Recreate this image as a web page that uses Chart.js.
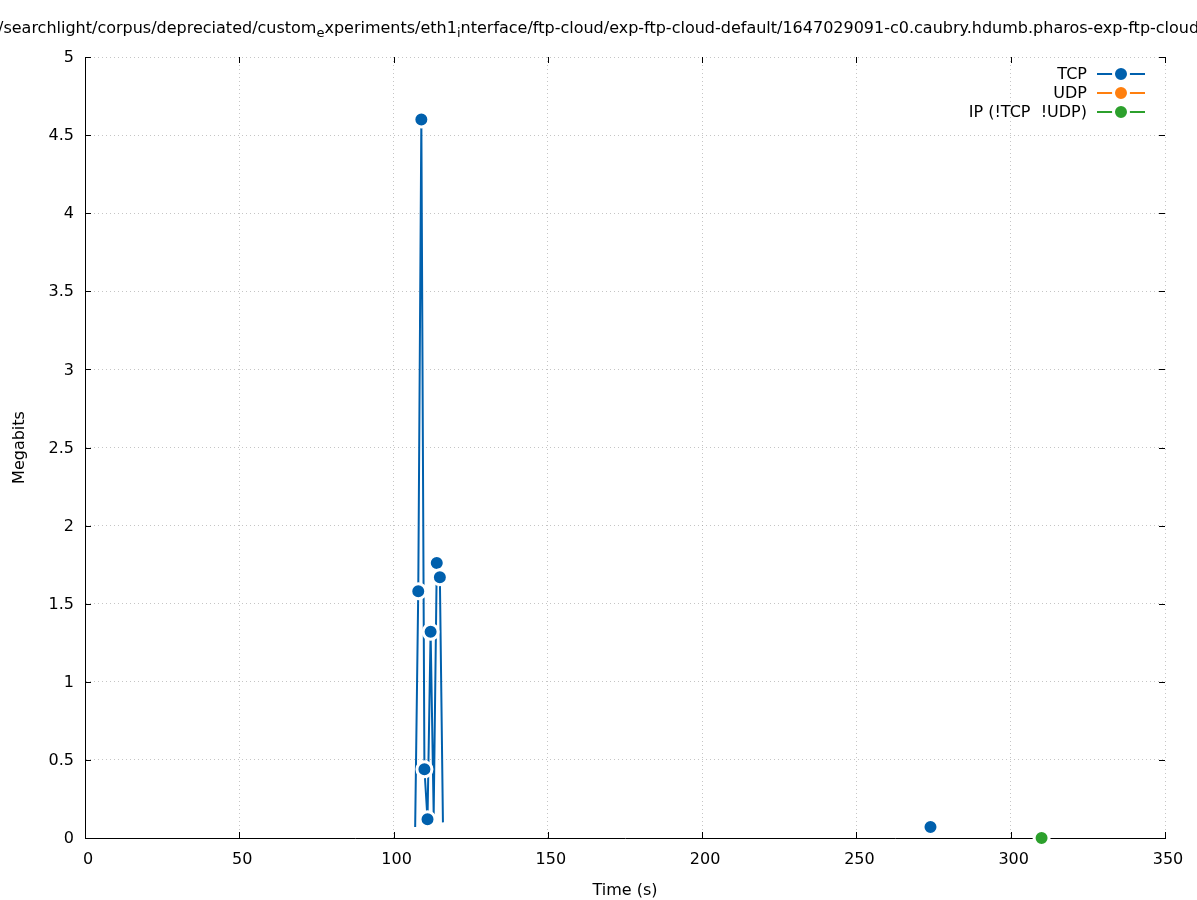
<!DOCTYPE html>
<html lang="en">
<head>
<meta charset="UTF-8">
<title>Megabits over time</title>
<script src="https://cdn.jsdelivr.net/npm/chart.js"></script>
<style>
    * { margin: 0; padding: 0; box-sizing: border-box; }
    body { background: #fff; }
</style>
</head>
<body>
<canvas id="trafficChart" width="1197" height="900"></canvas>

<script>
    // values
    const tcpTime = [107, 108, 109, 110, 111, 112, 113, 114, 115, 116, 274];
    const tcpMbit = [0.07, 1.58, 4.6, 0.44, 0.12, 1.32, 0.15, 1.76, 1.67, 0.1, 0.07];
    const udpTime = [];
    const udpMbit = [];
    const ipTime = [310];
    const ipMbit = [0];
    const xTicks = [0, 50, 100, 150, 200, 250, 300, 350];
    const yTicks = [0, 0.5, 1, 1.5, 2, 2.5, 3, 3.5, 4, 4.5, 5];
    const seriesNames = ['TCP', 'UDP', 'IP (!TCP  !UDP)'];

    const FONT = "'DejaVu Sans', sans-serif";
    const colors = ['#0060ad', '#ff7f0e', '#2ca02c'];
    const gridColor = 'rgba(150, 150, 150, 0.55)';
    const noMarker = [0, 6, 9]; // tcp points drawn without a dot

    function toPoints(xs, ys) {
        return xs.map((x, i) => ({ x: x, y: ys[i] }));
    }

    function lineSet(label, xs, ys, color) {
        return {
            label: label,
            data: toPoints(xs, ys),
            borderColor: color,
            backgroundColor: color,
            borderWidth: 2,
            pointBackgroundColor: color,
            pointBorderColor: '#fff',
            pointBorderWidth: 3,
            pointRadius: 7.5,
            clip: 12,
            tension: 0,
            // no line across the long break in the data
            segment: {
                borderColor: c => (c.p1.parsed.x - c.p0.parsed.x > 20 ? 'transparent' : undefined)
            }
        };
    }

    // gnuplot-ish title with enhanced-text subscripts
    const titleParts = [
        ['/searchlight/corpus/depreciated/custom', false],
        ['e', true],
        ['xperiments/eth1', false],
        ['i', true],
        ['nterface/ftp-cloud/exp-ftp-cloud-default/1647029091-c0.caubry.hdumb.pharos-exp-ftp-cloud', false]
    ];

    const decorPlugin = {
        id: 'decor',
        afterDraw(chart) {
            const ctx = chart.ctx;
            const a = chart.chartArea;
            const xs = chart.scales.x, ys = chart.scales.y;

            // inward tick marks on all four sides
            ctx.save();
            ctx.strokeStyle = '#000';
            ctx.lineWidth = 1;
            ctx.beginPath();
            xTicks.forEach(v => {
                const px = Math.round(xs.getPixelForValue(v)) + 0.5;
                ctx.moveTo(px, a.bottom); ctx.lineTo(px, a.bottom - 6);
                ctx.moveTo(px, a.top); ctx.lineTo(px, a.top + 6);
            });
            yTicks.forEach(v => {
                const py = Math.round(ys.getPixelForValue(v)) + 0.5;
                ctx.moveTo(a.left, py); ctx.lineTo(a.left + 6, py);
                ctx.moveTo(a.right, py); ctx.lineTo(a.right - 6, py);
            });
            ctx.stroke();

            // title
            let tx = -2;
            const ty = 29;
            ctx.fillStyle = '#000';
            ctx.textBaseline = 'middle';
            ctx.textAlign = 'left';
            titleParts.forEach(([txt, sub]) => {
                ctx.font = (sub ? '13px ' : '16px ') + FONT;
                ctx.fillText(txt, tx, sub ? ty + 5 : ty);
                tx += ctx.measureText(txt).width;
            });

            // key, top right inside the plot
            ctx.font = '16px ' + FONT;
            ctx.textAlign = 'right';
            seriesNames.forEach((name, i) => {
                const ly = 74 + i * 19;
                ctx.fillStyle = '#000';
                ctx.fillText(name, 1087, ly + 1);
                ctx.strokeStyle = colors[i];
                ctx.lineWidth = 2;
                ctx.beginPath();
                ctx.moveTo(1097, ly); ctx.lineTo(1145, ly);
                ctx.stroke();
                ctx.beginPath();
                ctx.arc(1121, ly, 7.5, 0, Math.PI * 2);
                ctx.fillStyle = colors[i];
                ctx.fill();
                ctx.strokeStyle = '#fff';
                ctx.lineWidth = 3;
                ctx.stroke();
            });
            ctx.restore();
        }
    };

    const tcpSet = lineSet(seriesNames[0], tcpTime, tcpMbit, colors[0]);
    tcpSet.pointRadius = c => (noMarker.includes(c.dataIndex) ? 0 : 7.5);
    tcpSet.pointBorderWidth = c => (noMarker.includes(c.dataIndex) ? 0 : 3);

    const chart = new Chart(document.getElementById('trafficChart'), {
        type: 'line',
        data: {
            datasets: [
                tcpSet,
                lineSet(seriesNames[1], udpTime, udpMbit, colors[1]),
                lineSet(seriesNames[2], ipTime, ipMbit, colors[2])
            ]
        },
        options: {
            responsive: false,
            animation: false,
            layout: { padding: { top: 57, right: 32, left: 0, bottom: 0 } },
            scales: {
                x: {
                    type: 'linear',
                    min: 0,
                    max: 350,
                    afterBuildTicks: s => { s.ticks = xTicks.map(v => ({ value: v })); },
                    afterFit: s => { s.height = 62; },
                    grid: {
                        color: c => (c.tick && c.tick.value === 0 ? 'transparent' : gridColor),
                        lineWidth: 1,
                        drawTicks: false
                    },
                    border: { display: true, color: '#000', width: 1, dash: [1, 3] },
                    ticks: {
                        color: '#000', padding: 12, labelOffset: 3, maxRotation: 0,
                        font: { family: FONT, size: 16 },
                        callback: v => String(v)
                    },
                    title: { display: true, text: 'Time (s)', color: '#000', padding: { top: 5, bottom: 0 }, font: { family: FONT, size: 16 } }
                },
                y: {
                    type: 'linear',
                    min: 0,
                    max: 5,
                    afterBuildTicks: s => { s.ticks = yTicks.map(v => ({ value: v })); },
                    afterFit: s => { s.width = 85; },
                    grid: {
                        color: c => (c.tick && c.tick.value === 0 ? 'transparent' : gridColor),
                        lineWidth: 1,
                        drawTicks: false
                    },
                    border: { display: true, color: '#000', width: 1, dash: [1, 3] },
                    ticks: {
                        color: '#000', padding: 11, labelOffset: 1,
                        font: { family: FONT, size: 16 },
                        callback: v => String(v)
                    },
                    title: { display: true, text: 'Megabits', color: '#000', padding: { top: 10, bottom: 0 }, font: { family: FONT, size: 16 } }
                }
            },
            plugins: {
                legend: { display: false },
                tooltip: { enabled: false }
            }
        },
        plugins: [decorPlugin]
    });
</script>
</body>
</html>
